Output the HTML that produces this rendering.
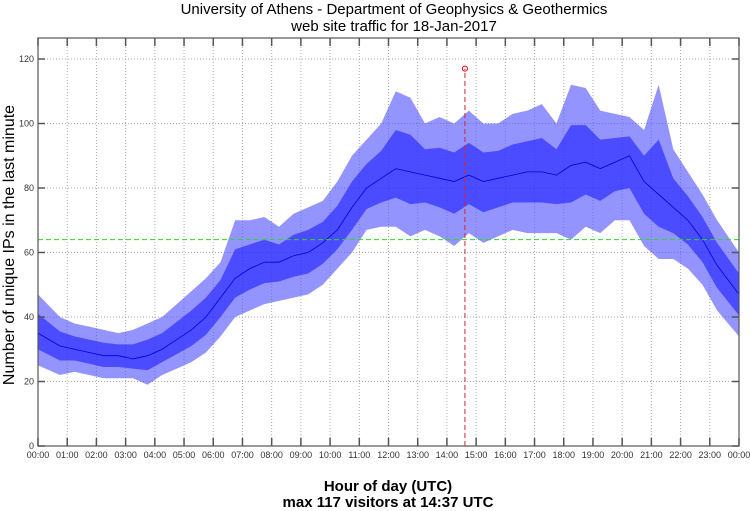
<!DOCTYPE html>
<html><head><meta charset="utf-8"><style>
body{margin:0;background:#fff;}
svg{display:block;font-family:"Liberation Sans",sans-serif;}
</style></head><body>
<svg id="chart" width="750" height="511" viewBox="0 0 750 511">
<text x="394" y="14" text-anchor="middle" font-size="15">University of Athens - Department of Geophysics &amp; Geothermics</text>
<text x="394" y="31" text-anchor="middle" font-size="15">web site traffic for 18-Jan-2017</text>
<text transform="translate(14,245) rotate(-90)" text-anchor="middle" font-size="16">Number of unique IPs in the last minute</text>
<text x="388" y="491" text-anchor="middle" font-size="15" font-weight="bold">Hour of day (UTC)</text>
<text x="388" y="507" text-anchor="middle" font-size="15" font-weight="bold">max 117 visitors at 14:37 UTC</text>
<g id="grid"></g>
<g id="series"></g>
<g id="axes"></g>
</svg>
<script>
// half-hour bins: low, high, typical values
const lowVals =[25,22,23,22,21,21,21,19,22,24,26,29,34,40,42,44,45,46,47,50,55,60,67,68,68,65,67,65,62,66,63,65,67,66,66,66,64,68,66,70,70,62,58,58,55,50,42,34];
const highVals=[47,40,38,37,36,35,36,38,40,44,48,52,57,70,70,71,68,72,74,76,82,90,95,100,110,108,100,102,100,104,100,100,103,104,106,100,112,111,104,103,102,98,112,92,85,78,70,60];
const midVals =[35,31,30,29,28,28,27,28,30,33,36,40,46,52,55,57,57,59,60,63,67,74,80,83,86,85,84,83,82,84,82,83,84,85,85,84,87,88,86,88,90,82,78,74,70,64,56,47];
const yTicks=[0,20,40,60,80,100,120];
const xTickLabels=["00:00","01:00","02:00","03:00","04:00","05:00","06:00","07:00","08:00","09:00","10:00","11:00","12:00","13:00","14:00","15:00","16:00","17:00","18:00","19:00","20:00","21:00","22:00","23:00","00:00"];
const maxValue=117, maxMinute=14*60+37, refLevel=64;

const NS="http://www.w3.org/2000/svg";
const L=38,R=739,T=38,B=446;
const X=m=>L+(R-L)*m/1440;
const Y=v=>B-v*(B-59)/120;
function mk(tag,attrs,parent){const e=document.createElementNS(NS,tag);for(const k in attrs)e.setAttribute(k,attrs[k]);parent.appendChild(e);return e;}
const grid=document.getElementById('grid'),axes=document.getElementById('axes'),series=document.getElementById('series');

yTicks.forEach(v=>{
  if(v>0){const g=mk('line',{x1:L,x2:R,y1:Y(v),y2:Y(v),stroke:'#aaa','stroke-dasharray':'1,2','stroke-width':1},grid);
  
  }
  const t=mk('text',{x:L-4,y:Y(v)+3,'text-anchor':'end','font-size':9,fill:'#333'},axes);t.textContent=v;
  
  
  mk('line',{x1:L,x2:L+7,y1:Y(v),y2:Y(v),stroke:'#555','stroke-width':1.5},axes);
  mk('line',{x1:R-7,x2:R,y1:Y(v),y2:Y(v),stroke:'#555','stroke-width':1.5},axes);
});
xTickLabels.forEach((lab,i)=>{
  const x=X(i*60);
  if(i>0&&i<24){const g=mk('line',{x1:x,x2:x,y1:T,y2:B,stroke:'#aaa','stroke-dasharray':'1,2','stroke-width':1},grid);
  
  }
  mk('line',{x1:x,x2:x,y1:B-8,y2:B,stroke:'#555','stroke-width':1.5},axes);
  mk('line',{x1:x,x2:x,y1:T,y2:T+8,stroke:'#555','stroke-width':1.5},axes);
  const t=mk('text',{x:x,y:B+12,'text-anchor':'middle','font-size':9,fill:'#333'},axes);t.textContent=lab;
  
  
});
const n=lowVals.length;
const cx=i=>X(Math.min(1440,Math.max(0,i*30+15+(i===0?-15:0)+(i===n-1?15:0))));
// outer band
const topPts=[],botPts=[];
lowVals.forEach((v,i)=>{topPts.push(cx(i)+','+Y(highVals[i]));botPts.push(cx(i)+','+Y(v));});
const band=mk('polygon',{points:topPts.concat(botPts.slice().reverse()).join(' '),fill:'#4d4dff','fill-opacity':0.6},series);


// inner band
const t2=[],b2=[];
midVals.forEach((v,i)=>{t2.push(cx(i)+','+Y((v+highVals[i])/2));b2.push(cx(i)+','+Y((v+lowVals[i])/2));});
const core=mk('polygon',{points:t2.concat(b2.slice().reverse()).join(' '),fill:'#1a1aff','fill-opacity':0.6},series);


const line=mk('polyline',{points:midVals.map((v,i)=>cx(i)+','+Y(v)).join(' '),fill:'none',stroke:'#0000dd','stroke-width':0.8},series);


const ref=mk('line',{x1:L,x2:R,y1:Y(refLevel),y2:Y(refLevel),stroke:'#22dd22','stroke-dasharray':'5,3','stroke-width':1},series);


const mx=mk('line',{x1:X(maxMinute),x2:X(maxMinute),y1:B,y2:Y(maxValue),stroke:'#dd2222','stroke-dasharray':'5,3','stroke-width':1},series);


const mc=mk('circle',{cx:X(maxMinute),cy:Y(maxValue),r:2.5,fill:'none',stroke:'#dd0000','stroke-width':1},series);


const fr=mk('rect',{x:L,y:T,width:R-L,height:B-T,fill:'none',stroke:'#555','stroke-width':1.2},axes);


</script>
</body></html>
